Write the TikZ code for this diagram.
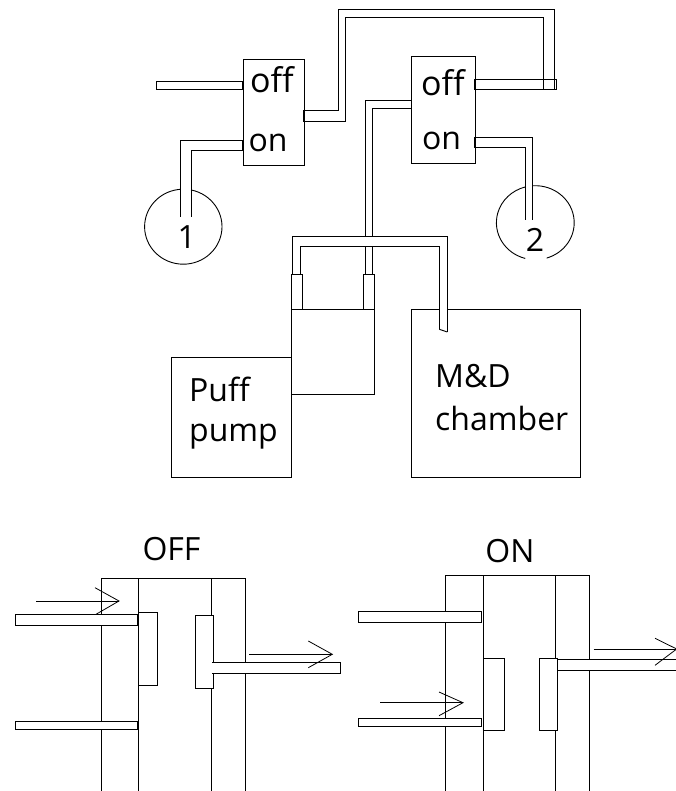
\documentclass[tikz,border=0pt]{standalone}
\usepackage{fontspec}
\setmainfont{Open Sans}
\tikzset{
  line/.style={draw=black,line width=0.9pt,line cap=butt,line join=miter},
  box/.style={line,fill=white,inner sep=0pt,rectangle,anchor=north west},
  pipe/.style={line,fill=white},
  lbl/.style={inner sep=0pt,font=\fontsize{32}{38}\selectfont},
  lblw/.style={inner sep=0pt,font=\fontsize{34}{40}\selectfont},
  flow/.style={draw=black,line width=0.8pt}
}
\begin{document}
\begin{tikzpicture}[x=1pt,y=-1pt]
\useasboundingbox (0,0) rectangle (675,791);
% top: switch boxes
\node[box,minimum width=61pt,minimum height=106.3pt] (swA) at (243.3,58.7) {};
\node[box,minimum width=64pt,minimum height=106.7pt] (swB) at (411.3,56) {};
\node[lblw] (swAoff) at (272,79.5) {off};
\node[lbl] (swAon) at (268,143) {on};
\node[lblw] (swBoff) at (443,82.5) {off};
\node[lbl] (swBon) at (441.5,141) {on};
% circles
\draw[line] ([shift={(183.3,226.7)}]281.5:38.7 and 37.5) arc[start angle=281.5,end angle=626,x radius=38.7,y radius=37.5];
\draw[line] ([shift={(535.3,222.7)}]266:38.9 and 37) arc[start angle=266,end angle=433,x radius=38.9,y radius=37];
\draw[line] ([shift={(535.3,222.7)}]105:38.9 and 37) arc[start angle=105,end angle=255,x radius=38.9,y radius=37];
\node[lbl] (one) at (186.7,237.5) {1};
\node[lbl] (two) at (535,240) {2};
% pipes, top
\draw[pipe] (156.7,81.3) rectangle (242,89.3);
\draw[line] (180.7,216.7) -- (180.7,140) -- (242,140) -- (242,150.7) -- (191,150.7) -- (191,216.7);
\draw[line] (303.3,110.7) -- (338,110.7) -- (338,9.3) -- (554,9.3) -- (554,89.3);
\draw[line] (303.3,110.7) -- (303.3,121) -- (345.7,121) -- (345.7,17.3) -- (543.7,17.3) -- (543.7,89.3);
\draw[line] (474,79) -- (556.7,79) -- (556.7,89.3) -- (474,89.3) -- cycle;
\draw[line] (474,137.3) -- (532.7,137.3) -- (532.7,220);
\draw[line] (474,137.3) -- (474,147.3) -- (525,147.3) -- (525,220);
\draw[line] (411,100) -- (365,100) -- (365,236);
\draw[line] (411,100) -- (411,108) -- (372,108) -- (372,236);
\draw[line] (365,246.7) -- (365,274);
\draw[line] (372,246.7) -- (372,274);
% pump and chamber
\node[box,minimum width=168.7pt,minimum height=167.7pt] (md) at (411.3,309.3) {};
\node[lbl,anchor=west] (mdA) at (435,376) {M\&D};
\node[lbl,anchor=west] (mdB) at (435,418.5) {chamber};
\node[box,minimum width=120.3pt,minimum height=120pt] (puff) at (171,357.3) {};
\node[lbl,anchor=west] (puffA) at (189,389.5) {Puff};
\node[lbl,anchor=west] (puffB) at (189,436.5) {pump};
\draw[line] (291.3,357.3) -- (291.3,309.3) -- (374,309.3) -- (374,394.7) -- (291.3,394.7);
\draw[pipe] (291.3,274) rectangle (302,309.3);
\draw[pipe] (363.3,274) rectangle (374,309.3);
\draw[line] (292.7,274) -- (292.7,236) -- (447.3,236) -- (447.3,332);
\draw[line] (300.7,274) -- (300.7,246.7) -- (439.3,246.7) -- (439.3,329.3);
\fill[white] (439.9,305) rectangle (446.7,315);
\draw[line] (439.3,329.3) -- (447.3,332);
% OFF
\node[lbl] (offT) at (171.5,549.5) {OFF};
\draw[line] (101.3,791) -- (101.3,578.3) -- (245.7,578.3) -- (245.7,791);
\draw[line] (138.7,578.3) -- (138.7,791);
\draw[line] (211,578.3) -- (211,791);
\draw[pipe] (15,614.3) rectangle (137.7,625.3);
\draw[pipe] (15,721.3) rectangle (137.7,729.3);
\draw[pipe] (138.7,612.7) rectangle (157.7,685.3);
\draw[pipe] (195,615.3) rectangle (213.7,688);
\draw[pipe] (212.3,662.3) -- (340.3,662.3) -- (340.3,673.3) -- (212.3,673.3);
\draw[flow] (36,601) -- (119,601);
\draw[flow] (95,587.7) -- (119,601) -- (96,614.3);
\draw[flow] (249.3,654.3) -- (332.3,654.3);
\draw[flow] (308.3,641) -- (332.3,654.3) -- (308.3,667.7);
% ON
\node[lbl] (onT) at (510,551.5) {ON};
\draw[line] (445.7,791) -- (445.7,575.7) -- (589.7,575.7) -- (589.7,791);
\draw[line] (483,575.7) -- (483,791);
\draw[line] (555,575.7) -- (555,791);
\draw[pipe] (358.7,611.7) rectangle (481.7,622.3);
\draw[pipe] (358.7,718.7) rectangle (481,726.7);
\draw[pipe] (483,658.3) rectangle (504.3,730.7);
\draw[pipe] (539,658.3) rectangle (557.7,730.7);
\draw[pipe] (557.7,659.7) -- (676,659.7) -- (676,670.3) -- (557.7,670.3);
\draw[flow] (380.3,702.7) -- (463,702.7);
\draw[flow] (439,692) -- (463,702.7) -- (439,715.7);
\draw[flow] (593.7,649) -- (676.7,649);
\draw[flow] (655,638.3) -- (676.7,649) -- (655,665.3);
\end{tikzpicture}
\end{document}
